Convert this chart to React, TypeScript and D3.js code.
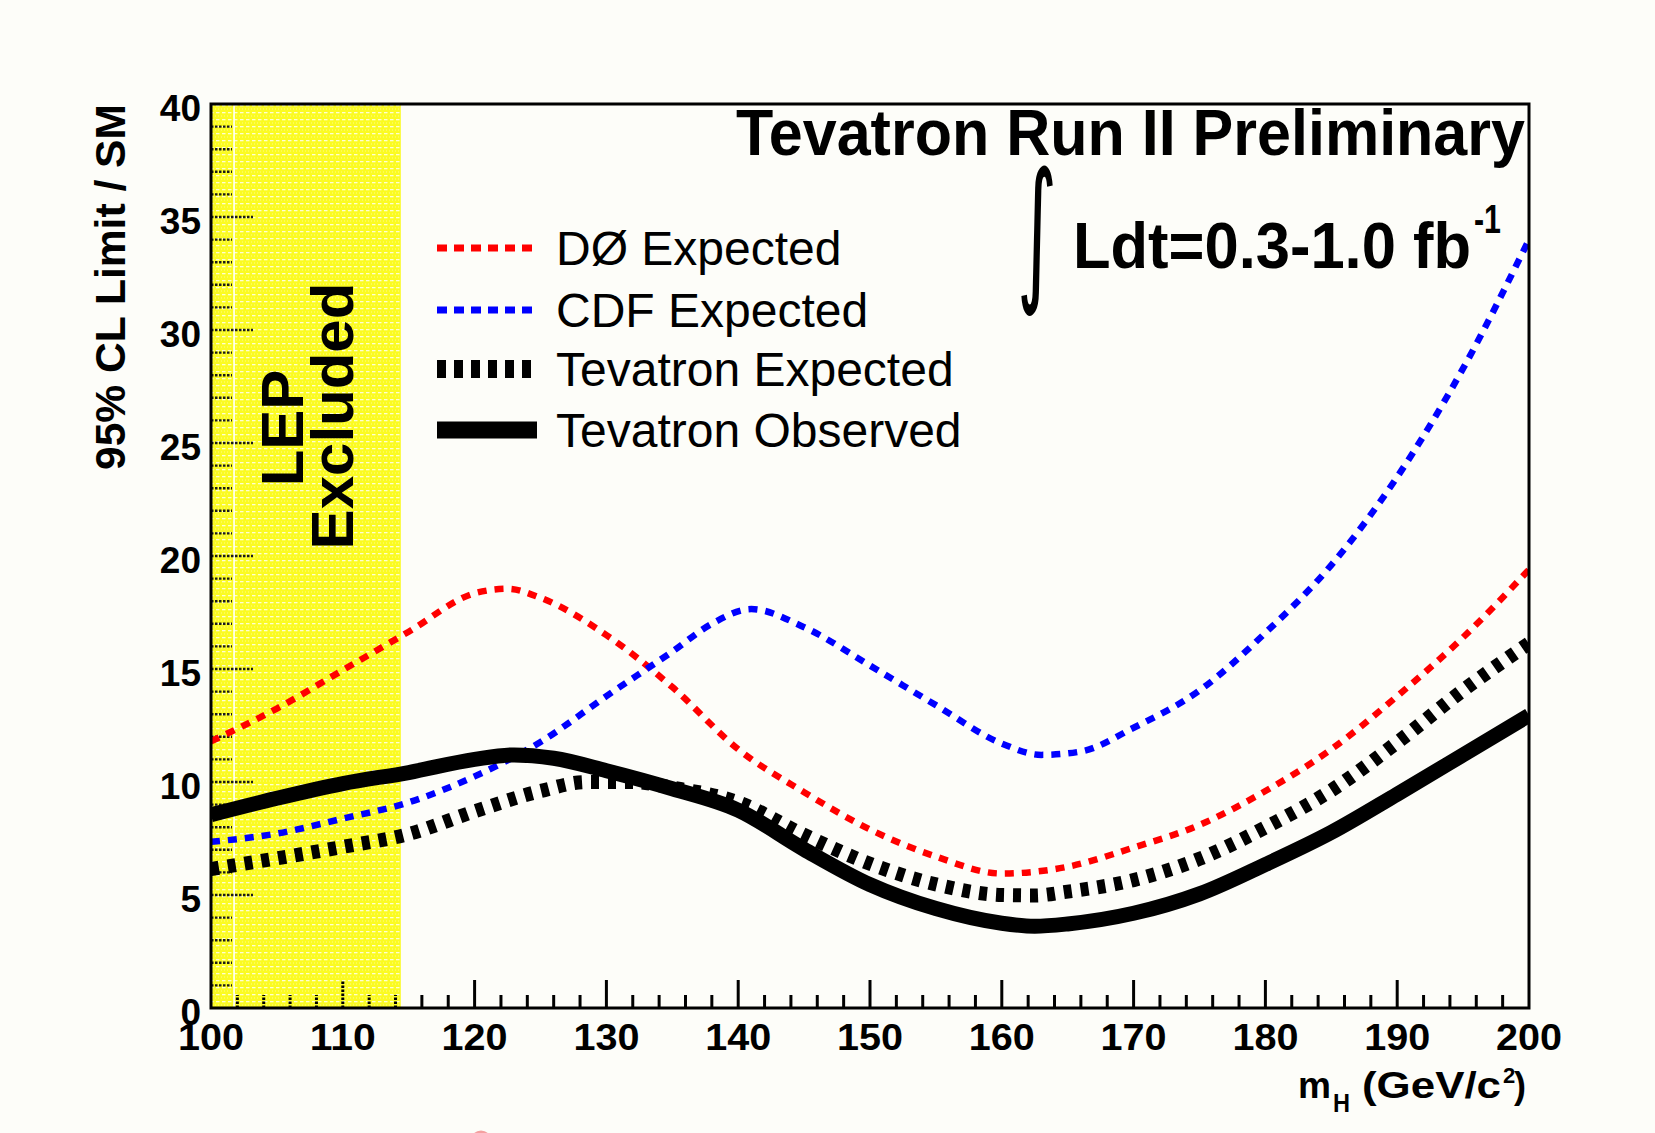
import React from 'react';
import * as d3 from 'd3';

const W = 1655;
const H = 1133;

// Axis domains and tick labels
const xDomain = [100, 200];
const yDomain = [0, 40];
const xTickLabels = ['100', '110', '120', '130', '140', '150', '160', '170', '180', '190', '200'];
const yTickLabels = ['0', '5', '10', '15', '20', '25', '30', '35', '40'];
const lepLimit = 114.4;

// DØ Expected
const d0Mass = [100, 105, 110, 115, 120, 122.5, 125, 130, 135, 140, 145, 150, 155, 160, 165, 170, 175, 180, 185, 190, 195, 200];
const d0Expected = [11.8, 13.25, 14.95, 16.65, 18.35, 18.55, 18.15, 16.5, 14.2, 11.45, 9.55, 7.9, 6.7, 5.95, 6.25, 7.1, 8.1, 9.6, 11.45, 13.8, 16.4, 19.4];

// CDF Expected
const cdfMass = [100, 105, 110, 115, 120, 125, 130, 135, 138, 141, 145, 150, 155, 160, 163, 166, 170, 175, 180, 185, 190, 195, 200];
const cdfExpected = [7.35, 7.72, 8.38, 9.1, 10.25, 11.77, 13.8, 15.77, 17.0, 17.65, 16.85, 15.15, 13.4, 11.7, 11.2, 11.35, 12.4, 14.05, 16.6, 19.6, 23.5, 28.3, 34.0];

// Tevatron Expected
const tevExpMass = [100, 105, 110, 115, 120, 125, 128.5, 132, 135, 140, 145, 150, 155, 160, 162.5, 165, 170, 175, 180, 185, 190, 195, 200];
const tevExpected = [6.15, 6.62, 7.13, 7.7, 8.7, 9.6, 10.0, 10.0, 9.75, 9.1, 7.66, 6.38, 5.47, 5.0, 4.98, 5.15, 5.66, 6.6, 7.99, 9.63, 11.75, 14.06, 16.13];

// Tevatron Observed
const tevObsMass = [100, 105, 110, 115, 120, 123, 126, 130, 135, 140, 145, 150, 155, 160, 162.5, 165, 170, 175, 180, 185, 190, 195, 200];
const tevObserved = [8.55, 9.28, 9.93, 10.42, 11.0, 11.2, 11.05, 10.5, 9.7, 8.75, 7.02, 5.46, 4.4, 3.75, 3.62, 3.72, 4.19, 5.05, 6.35, 7.77, 9.46, 11.2, 12.95];

const legendLabels = ['DØ Expected', 'CDF Expected', 'Tevatron Expected', 'Tevatron Observed'];

const FONT = '"Liberation Sans", Arial, Helvetica, sans-serif';

export default function App() {
  const plot = { left: 211, right: 1529, top: 104, bottom: 1008 };
  const x = d3.scaleLinear().domain(xDomain).range([plot.left, plot.right]);
  const y = d3.scaleLinear().domain(yDomain).range([plot.bottom, plot.top]);

  const mk = (xs: number[], ys: number[]) =>
    d3
      .line<number>()
      .x((_, i) => x(xs[i]))
      .y((d) => y(d))
      .curve(d3.curveMonotoneX)(ys) || '';

  const series = [
    { label: legendLabels[0], d: mk(d0Mass, d0Expected), color: '#ff0000', w: 6.5, dash: '9 8', lw: 7, ldash: '10 7' },
    { label: legendLabels[1], d: mk(cdfMass, cdfExpected), color: '#0000ff', w: 6.5, dash: '9 8', lw: 7, ldash: '10 7' },
    { label: legendLabels[2], d: mk(tevExpMass, tevExpected), color: '#000000', w: 14, dash: '8 9', lw: 18, ldash: '9 8' },
    { label: legendLabels[3], d: mk(tevObsMass, tevObserved), color: '#000000', w: 15, dash: undefined, lw: 17, ldash: undefined },
  ];

  const xMinor = d3.range(100, 201, 2);
  const yMinor = d3.range(0, 41, 1);
  const lepX = x(lepLimit);

  const legendRows = [248, 310, 369, 430];

  return (
    <svg
      width={W}
      height={H}
      style={{ position: 'absolute', left: 0, top: 0, background: '#fdfdf9' }}
      fontFamily={FONT}
    >
      <defs>
        <pattern id="lep" width="6" height="7" patternUnits="userSpaceOnUse">
          <rect width="6" height="7" fill="#fbfb22" />
          <rect x="0" y="0" width="3.5" height="1.3" fill="#ffffff" opacity="0.8" />
          <rect x="2" y="3.5" width="1" height="1" fill="#ffffff" opacity="0.45" />
          <rect x="5" y="3.5" width="1" height="1" fill="#ffffff" opacity="0.45" />
        </pattern>
        <clipPath id="plotclip">
          <rect x={plot.left} y={plot.top} width={plot.right - plot.left} height={plot.bottom - plot.top} />
        </clipPath>
      </defs>

      <rect x={0} y={0} width={W} height={H} fill="#fdfdf9" />

      {/* LEP excluded band */}
      <rect x={plot.left} y={plot.top} width={lepX - plot.left} height={plot.bottom - plot.top} fill="url(#lep)" />
      <line x1={x(101.75)} x2={x(101.75)} y1={plot.top} y2={plot.bottom} stroke="#ffffff" strokeWidth={1.6} />

      {/* Y ticks (inside band, look dotted) */}
      {yMinor.map((v) => {
        const major = v % 5 === 0;
        if (v === 0 || v === 40) return null;
        return (
          <line
            key={'yt' + v}
            x1={plot.left}
            x2={plot.left + (major ? 42 : 21)}
            y1={y(v)}
            y2={y(v)}
            stroke="#1a1a1a"
            strokeWidth={2.4}
            strokeDasharray="2.5 1.5"
          />
        );
      })}

      {/* X ticks */}
      {xMinor.map((v) => {
        const major = v % 10 === 0;
        if (v === 100 || v === 200) return null;
        const inBand = v < lepLimit;
        return (
          <line
            key={'xt' + v}
            x1={x(v)}
            x2={x(v)}
            y1={plot.bottom}
            y2={plot.bottom - (major ? 28 : 13)}
            stroke="#000"
            strokeWidth={3}
            strokeDasharray={inBand ? '2.5 1.5' : undefined}
          />
        );
      })}

      {/* LEP Excluded label */}
      <text
        transform={`translate(303, 428) rotate(-90)`}
        textAnchor="middle"
        fontSize={60}
        fontWeight="bold"
        fill="#000"
      >
        LEP
      </text>
      <text
        transform={`translate(353, 416) rotate(-90)`}
        textAnchor="middle"
        fontSize={60}
        fontWeight="bold"
        fill="#000"
      >
        Excluded
      </text>

      {/* Curves */}
      <g clipPath="url(#plotclip)">
        {series.map((s) => (
          <path
            key={s.label}
            d={s.d}
            fill="none"
            stroke={s.color}
            strokeWidth={s.w}
            strokeDasharray={s.dash}
            strokeLinejoin="round"
          />
        ))}
      </g>

      {/* Frame */}
      <rect
        x={plot.left}
        y={plot.top}
        width={plot.right - plot.left}
        height={plot.bottom - plot.top}
        fill="none"
        stroke="#000"
        strokeWidth={3}
      />

      {/* X tick labels */}
      {xTickLabels.map((t) => (
        <text
          key={'xl' + t}
          x={x(+t)}
          y={1050}
          textAnchor="middle"
          fontSize={36}
          fontWeight="bold"
          textLength={66}
          lengthAdjust="spacingAndGlyphs"
        >
          {t}
        </text>
      ))}

      {/* Y tick labels */}
      {yTickLabels.map((t) => (
        <text key={'yl' + t} x={201} y={y(+t) + 17} textAnchor="end" fontSize={37} fontWeight="bold">
          {t}
        </text>
      ))}

      {/* Y axis title */}
      <text
        transform={`translate(125, 104) rotate(-90)`}
        textAnchor="end"
        fontSize={42}
        fontWeight="bold"
        textLength={366}
        lengthAdjust="spacingAndGlyphs"
      >
        95% CL Limit / SM
      </text>

      {/* X axis title */}
      <g fontWeight="bold">
        <text x={1298} y={1098} fontSize={36} textLength={33} lengthAdjust="spacingAndGlyphs">m</text>
        <text x={1333} y={1112} fontSize={26} textLength={17} lengthAdjust="spacingAndGlyphs">H</text>
        <text x={1362} y={1098} fontSize={36} textLength={139} lengthAdjust="spacingAndGlyphs">(GeV/c</text>
        <text x={1503} y={1083} fontSize={22}>2</text>
        <text x={1514} y={1098} fontSize={36}>)</text>
      </g>

      {/* Title */}
      <text
        x={1525}
        y={155}
        textAnchor="end"
        fontSize={64}
        fontWeight="bold"
        textLength={789}
        lengthAdjust="spacingAndGlyphs"
      >
        Tevatron Run II Preliminary
      </text>

      {/* Luminosity */}
      <text
        transform="translate(1037, 283) scale(0.55, 1.11)"
        textAnchor="middle"
        fontSize={140}
        fontFamily='"DejaVu Sans", sans-serif'
      >
        ∫
      </text>
      <text x={1073} y={268} fontSize={64} fontWeight="bold" textLength={398} lengthAdjust="spacingAndGlyphs">
        Ldt=0.3-1.0 fb
      </text>
      <text x={1474} y={233} fontSize={40} fontWeight="bold" textLength={27} lengthAdjust="spacingAndGlyphs">
        -1
      </text>

      {/* Legend */}
      {series.map((s, i) => (
        <g key={'lg' + s.label}>
          <line
            x1={437}
            x2={537}
            y1={legendRows[i]}
            y2={legendRows[i]}
            stroke={s.color}
            strokeWidth={s.lw}
            strokeDasharray={s.ldash}
          />
          <text x={556} y={legendRows[i] + 17} fontSize={48} fill="#000">
            {s.label}
          </text>
        </g>
      ))}

      {/* small red artifact at bottom */}
      <circle cx={481} cy={1141} r={9} fill="none" stroke="#f4a0a0" strokeWidth={3} />
    </svg>
  );
}
